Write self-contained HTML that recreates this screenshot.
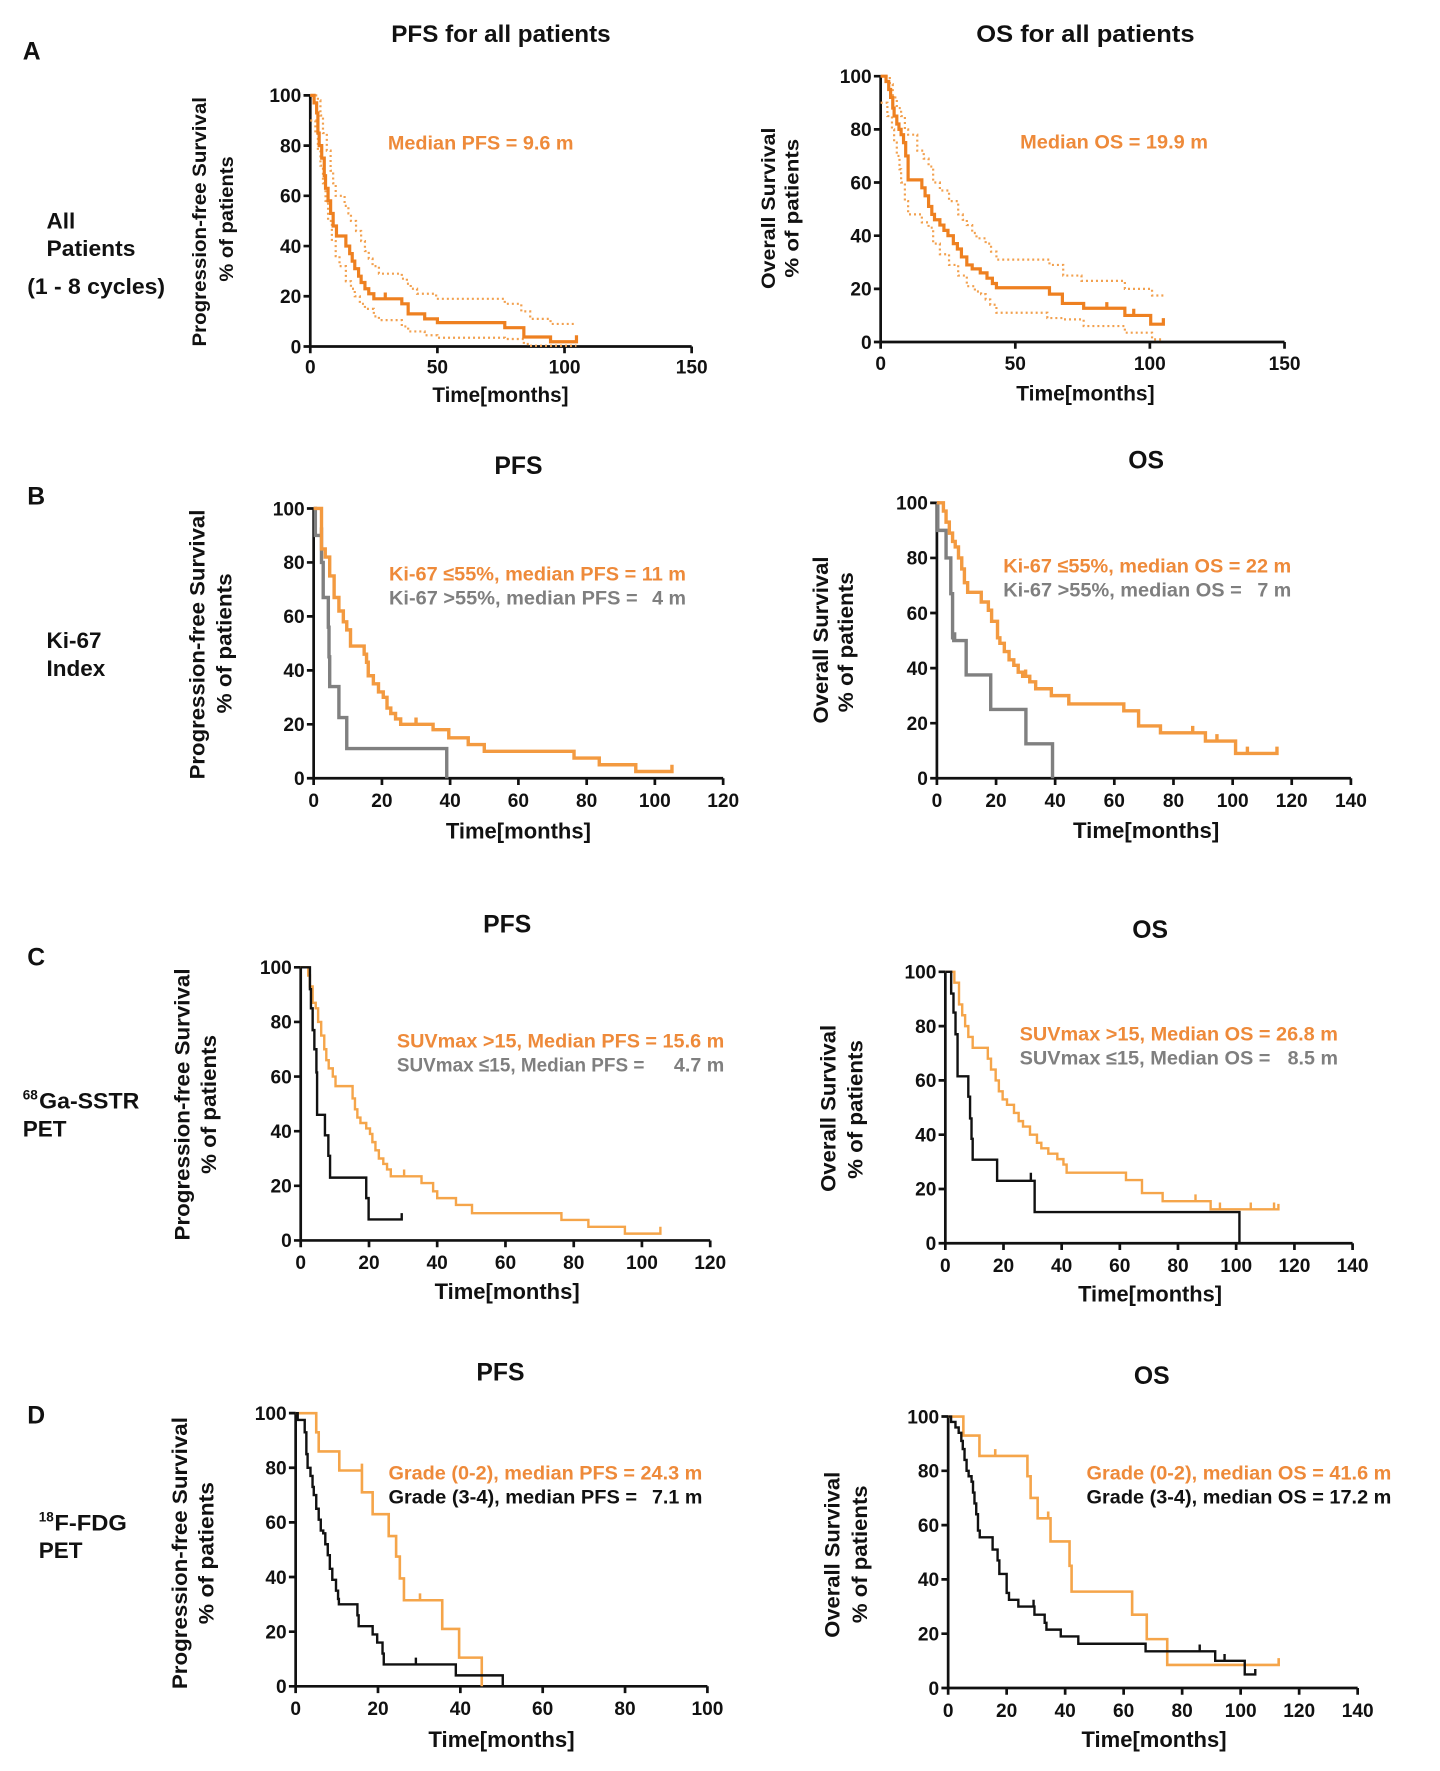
<!DOCTYPE html>
<html>
<head>
<meta charset="utf-8">
<style>
html,body{margin:0;padding:0;background:#fff;}
svg{display:block;}
text{font-family:"Liberation Sans",Arial,sans-serif;font-weight:bold;fill:#111;}
.tk{font-size:17px;}
.ttl{font-size:22px;}
.ax{fill:none;stroke:#111;stroke-width:2.4;}
.c{fill:none;vector-effect:non-scaling-stroke;stroke-linejoin:miter;stroke-linecap:butt;}
.or{fill:#EE8A3A;}
.gr{fill:#7F7F7F;}
</style>
</head>
<body>
<svg width="1440" height="1771" viewBox="0 0 1280 1574.22" xmlns="http://www.w3.org/2000/svg">
<rect x="0" y="0" width="1280" height="1574.22" fill="#fff"/>
<g transform="translate(1.8,0) scale(1,1.0033)">

<!-- ================= PANEL A ================= -->
<text x="18.4" y="52.5" font-size="22">A</text>
<text x="346" y="37" font-size="21.5" textLength="195" lengthAdjust="spacingAndGlyphs">PFS for all patients</text>
<text x="866" y="37" font-size="21.5" textLength="194" lengthAdjust="spacingAndGlyphs">OS for all patients</text>
<text x="39.6" y="202.5" font-size="20">All</text>
<text x="39.6" y="227" font-size="20" textLength="79" lengthAdjust="spacingAndGlyphs">Patients</text>
<text x="22.4" y="260.5" font-size="20" textLength="122.5" lengthAdjust="spacingAndGlyphs">(1 - 8 cycles)</text>

<!-- A PFS axes -->
<path class="ax" d="M274,84.5 V307 H613 M268,84.5 H274 M268,129 H274 M268,173.5 H274 M268,218 H274 M268,262.5 H274 M268,307 H274 M274,307 V313 M387,307 V313 M500,307 V313 M613,307 V313"/>
<g class="tk" text-anchor="end">
<text x="266" y="90.5">100</text><text x="266" y="135">80</text><text x="266" y="179.5">60</text><text x="266" y="224">40</text><text x="266" y="268.5">20</text><text x="266" y="313">0</text>
</g>
<g class="tk" text-anchor="middle">
<text x="274" y="331">0</text><text x="387" y="331">50</text><text x="500" y="331">100</text><text x="613" y="331">150</text>
</g>
<text x="443" y="356" font-size="18.5" text-anchor="middle" textLength="121" lengthAdjust="spacingAndGlyphs">Time[months]</text>
<text transform="translate(181.5,196.5) rotate(-90)" font-size="17.5" text-anchor="middle" textLength="221" lengthAdjust="spacingAndGlyphs">Progression-free Survival</text>
<text transform="translate(205.5,194) rotate(-90)" font-size="17.5" text-anchor="middle" textLength="111" lengthAdjust="spacingAndGlyphs">%  of patients</text>
<text class="or" x="343" y="132.5" font-size="17.5" textLength="165" lengthAdjust="spacingAndGlyphs">Median PFS = 9.6 m</text>
<g transform="translate(274,307) scale(2.26,-2.225)">
<path class="c" stroke="#F2A04E" stroke-width="2.2" stroke-dasharray="2 3" d="M0,100 H3 V98 H4 V92 H5 V85 H6.5 V78 H8 V70 H9 V65 H10 V60 H13.5 V56 H15 V53 H16 V50 H18 V46 H20 V42 H21.5 V38 H23 V35 H24.5 V32 H27 V29 H36 V27 H38 V25 H39.5 V23 H42 V21 H49.5 V19 H76.5 V17 H83 V14 H86.5 V11 H94.5 V9 H104.7"/>
<path class="c" stroke="#F2A04E" stroke-width="2.2" stroke-dasharray="2 3" d="M0,90 H2 V85 H3 V78 H4 V72 H5 V65 H6 V58 H7 V50 H8.5 V42 H10 V36 H11.5 V32 H14 V26 H16 V23 H17.5 V20 H19.5 V17 H21.5 V15 H25 V12 H27 V10.5 H36 V8 H38.5 V6 H45 V4.5 H50 V3.5 H76.5 V3 H84 V1 H86 V0.3 H104.7"/>
<path class="c" stroke="#EE8020" stroke-width="3.2" d="M0,100 H1.5 V97 H2.5 V93 H3 V85 H3.5 V80 H4.5 V75 H5.5 V68 H6 V63 H7 V58 H8 V53 H9 V48 H10.3 V44 H14 V40 H15.5 V37 H16.5 V34 H17.5 V31 H19 V28 H20 V25.5 H21.5 V23 H23 V21 H25 V19 H36 V17 H38.5 V13 H45 V11 H50 V9.5 H76.5 V7.5 H84 V3.8 H94.5 V1.9 H104.7 V4.5 M29.5,19 V21.5"/>
</g>

<!-- A OS axes -->
<path class="ax" d="M781,67.5 V303 H1140 M775,67.5 H781 M775,114.6 H781 M775,161.7 H781 M775,208.8 H781 M775,255.9 H781 M775,303 H781 M781,303 V309 M900.7,303 V309 M1020.3,303 V309 M1140,303 V309"/>
<g class="tk" text-anchor="end">
<text x="773" y="73.5">100</text><text x="773" y="120.6">80</text><text x="773" y="167.7">60</text><text x="773" y="214.8">40</text><text x="773" y="261.9">20</text><text x="773" y="309">0</text>
</g>
<g class="tk" text-anchor="middle">
<text x="781" y="328">0</text><text x="900.7" y="328">50</text><text x="1020.3" y="328">100</text><text x="1140" y="328">150</text>
</g>
<text x="963" y="355" font-size="18.5" text-anchor="middle" textLength="123" lengthAdjust="spacingAndGlyphs">Time[months]</text>
<text transform="translate(687,184.5) rotate(-90)" font-size="17.5" text-anchor="middle" textLength="143" lengthAdjust="spacingAndGlyphs">Overall Survival</text>
<text transform="translate(708,184.5) rotate(-90)" font-size="17.5" text-anchor="middle" textLength="123" lengthAdjust="spacingAndGlyphs">%  of patients</text>
<text class="or" x="905" y="131.5" font-size="17.5" textLength="167" lengthAdjust="spacingAndGlyphs">Median OS = 19.9 m</text>
<g transform="translate(781,303) scale(2.3933,-2.355)">
<path class="c" stroke="#F2A04E" stroke-width="2.2" stroke-dasharray="2 3" d="M0,100 H3.4 V97 H4.5 V92 H6 V88 H7.6 V85 H9 V80 H10.2 V78 H13.6 V72 H16 V69 H17.8 V66 H19.5 V60 H22 V57 H25.4 V53 H28.8 V48 H30.5 V46 H32 V44 H34 V41 H35.6 V39 H39 V37 H41 V34 H43 V31 H62.7 V29 H67.8 V25 H74.6 V23 H90.7 V20 H100.8 V17.5 H105"/>
<path class="c" stroke="#F2A04E" stroke-width="2.2" stroke-dasharray="2 3" d="M0,90 H2.5 V85 H4.2 V80 H5 V75 H6 V70 H7 V65 H7.6 V60 H9 V53 H10.2 V48 H15.3 V45 H17.8 V43 H19.5 V37 H22 V33 H25.4 V29 H28.8 V25 H32 V21 H35 V19 H37.3 V18 H39 V16 H40.7 V14 H43 V11 H61.9 V9 H67.5 V8.5 H75.4 V6 H90.7 V3.5 H100.8 V1 H105"/>
<path class="c" stroke="#EE8020" stroke-width="3.2" d="M0,100 H2 V98 H3 V95 H3.7 V92 H4.5 V88 H5 V85 H6 V82 H6.8 V80 H7.6 V78 H8.5 V75 H9.3 V70 H10.2 V61 H15.3 V58 H16.5 V55 H17.8 V51 H19 V48 H20 V46 H22 V44 H23.5 V42 H25 V40 H27 V37 H28.5 V35 H30 V32 H32 V29 H34 V27.5 H37 V26 H39.5 V24 H41.5 V22 H43 V20.4 H62.7 V18 H67.5 V14.5 H75.4 V12.7 H90.7 V10 H100.3 V6.7 H105 V9 M84,12.7 V15 M94,10 V12.5"/>
</g>

<!-- ================= PANEL B ================= -->
<text x="22.4" y="447" font-size="22">B</text>
<text x="459" y="420" class="ttl" text-anchor="middle">PFS</text>
<text x="1017" y="415" class="ttl" text-anchor="middle">OS</text>
<text x="39.6" y="574" font-size="20">Ki-67</text>
<text x="39.6" y="599" font-size="20">Index</text>

<!-- B PFS -->
<path class="ax" d="M277,450.5 V689.5 H641 M271,450.5 H277 M271,498.3 H277 M271,546.1 H277 M271,593.9 H277 M271,641.7 H277 M271,689.5 H277 M277,689.5 V695.5 M337.7,689.5 V695.5 M398.3,689.5 V695.5 M459,689.5 V695.5 M519.7,689.5 V695.5 M580.3,689.5 V695.5 M641,689.5 V695.5"/>
<g class="tk" text-anchor="end">
<text x="269" y="456.5">100</text><text x="269" y="504.3">80</text><text x="269" y="552.1">60</text><text x="269" y="599.9">40</text><text x="269" y="647.7">20</text><text x="269" y="695.5">0</text>
</g>
<g class="tk" text-anchor="middle">
<text x="277" y="715">0</text><text x="337.7" y="715">20</text><text x="398.3" y="715">40</text><text x="459" y="715">60</text><text x="519.7" y="715">80</text><text x="580.3" y="715">100</text><text x="641" y="715">120</text>
</g>
<text x="459" y="743" font-size="19.5" text-anchor="middle" textLength="129" lengthAdjust="spacingAndGlyphs">Time[months]</text>
<text transform="translate(180,571) rotate(-90)" font-size="18.5" text-anchor="middle" textLength="239" lengthAdjust="spacingAndGlyphs">Progression-free Survival</text>
<text transform="translate(204,570) rotate(-90)" font-size="18.5" text-anchor="middle" textLength="124" lengthAdjust="spacingAndGlyphs">%  of patients</text>
<text class="or" x="344" y="514.5" font-size="17.5" textLength="264" lengthAdjust="spacingAndGlyphs">Ki-67 ≤55%,  median PFS = 11 m</text>
<text class="gr" x="344" y="535.5" font-size="17.5" textLength="221" lengthAdjust="spacingAndGlyphs">Ki-67 &gt;55%,  median PFS =</text>
<text class="gr" x="608" y="535.5" font-size="17.5" text-anchor="end">4 m</text>
<g transform="translate(277,689.5) scale(3.0333,-2.39)">
<path class="c" stroke="#808080" stroke-width="3.4" d="M0,100 H0.5 V90 H2.3 V80 H2.8 V67 H4.3 V56 H4.5 V45 H4.7 V34 H7.4 V22.5 H9.7 V11 H39 V0 M2.3,90 V93"/>
<path class="c" stroke="#F39A40" stroke-width="3.4" d="M0,100 H2.3 V85 H3.4 V82 H4.7 V75 H6 V67 H7.4 V62 H8.7 V58 H9.7 V55 H10.8 V49 H14.8 V46 H15.5 V43 H16 V38 H17.5 V35 H19 V32 H20.4 V30 H21.5 V26 H22.6 V24 H24 V22 H25.5 V20 H35 V18 H39.6 V15 H45.3 V12.5 H50 V10 H76.3 V7.5 H83.7 V5 H94.4 V2.5 H105 V5 M30,20 V22.5"/>
</g>

<!-- B OS -->
<path class="ax" d="M831,445.5 V689.5 H1199 M825,445.5 H831 M825,494.3 H831 M825,543.1 H831 M825,591.9 H831 M825,640.7 H831 M825,689.5 H831 M831,689.5 V695.5 M883.6,689.5 V695.5 M936.1,689.5 V695.5 M988.7,689.5 V695.5 M1041.3,689.5 V695.5 M1093.9,689.5 V695.5 M1146.4,689.5 V695.5 M1199,689.5 V695.5"/>
<g class="tk" text-anchor="end">
<text x="823" y="451.5">100</text><text x="823" y="500.3">80</text><text x="823" y="549.1">60</text><text x="823" y="597.9">40</text><text x="823" y="646.7">20</text><text x="823" y="695.5">0</text>
</g>
<g class="tk" text-anchor="middle">
<text x="831" y="715">0</text><text x="883.6" y="715">20</text><text x="936.1" y="715">40</text><text x="988.7" y="715">60</text><text x="1041.3" y="715">80</text><text x="1093.9" y="715">100</text><text x="1146.4" y="715">120</text><text x="1199" y="715">140</text>
</g>
<text x="1017" y="742.5" font-size="19.5" text-anchor="middle" textLength="130" lengthAdjust="spacingAndGlyphs">Time[months]</text>
<text transform="translate(734,567) rotate(-90)" font-size="18.5" text-anchor="middle" textLength="148" lengthAdjust="spacingAndGlyphs">Overall Survival</text>
<text transform="translate(756.5,569) rotate(-90)" font-size="18.5" text-anchor="middle" textLength="124" lengthAdjust="spacingAndGlyphs">%  of patients</text>
<text class="or" x="890" y="507" font-size="17.5" textLength="256" lengthAdjust="spacingAndGlyphs">Ki-67 ≤55%,  median OS = 22 m</text>
<text class="gr" x="890" y="528.5" font-size="17.5" textLength="212" lengthAdjust="spacingAndGlyphs">Ki-67 &gt;55%,  median OS =</text>
<text class="gr" x="1146" y="528.5" font-size="17.5" text-anchor="end">7 m</text>
<g transform="translate(831,689.5) scale(2.6286,-2.44)">
<path class="c" stroke="#808080" stroke-width="3.4" d="M0,100 H0.3 V90 H3.1 V80 H4.7 V67 H5.3 V51 H5.7 V50 H9.9 V37.5 H18.2 V25 H30.1 V12.5 H39.1 V0 M6,50 V53"/>
<path class="c" stroke="#F39A40" stroke-width="3.4" d="M0,100 H1 V100 H2.2 V97 H3.1 V93 H4.2 V89 H5.3 V86 H6.2 V84 H7.3 V80 H8.4 V76 H9.3 V71 H10.4 V67.5 H15 V64 H17.4 V61 H18.5 V57 H20.5 V51 H21.3 V49 H22.8 V46 H24.4 V43 H26 V41 H27.5 V38.5 H29 V37 H31.4 V35 H33.4 V32.5 H38.7 V30 H44.6 V27 H63.2 V24.5 H68.2 V19 H75.6 V16.5 H90.8 V13.5 H101 V9 H115 V11.5 M86.5,16.5 V19 M94.7,13.5 V16 M105,9 V11.5 M30,37 V39.5"/>
</g>

<!-- ================= PANEL C ================= -->
<text x="22.4" y="855.5" font-size="22">C</text>
<text x="449" y="826" class="ttl" text-anchor="middle">PFS</text>
<text x="1020.5" y="831" class="ttl" text-anchor="middle">OS</text>
<text x="18.4" y="974" font-size="12">68</text>
<text x="33" y="982" font-size="20" textLength="89" lengthAdjust="spacingAndGlyphs">Ga-SSTR</text>
<text x="18.4" y="1007" font-size="20">PET</text>

<!-- C PFS -->
<path class="ax" d="M265.5,857 V1099 H629.5 M259.5,857 H265.5 M259.5,905.4 H265.5 M259.5,953.8 H265.5 M259.5,1002.2 H265.5 M259.5,1050.6 H265.5 M259.5,1099 H265.5 M265.5,1099 V1105 M326.2,1099 V1105 M386.8,1099 V1105 M447.5,1099 V1105 M508.2,1099 V1105 M568.8,1099 V1105 M629.5,1099 V1105"/>
<g class="tk" text-anchor="end">
<text x="257.5" y="863">100</text><text x="257.5" y="911.4">80</text><text x="257.5" y="959.8">60</text><text x="257.5" y="1008.2">40</text><text x="257.5" y="1056.6">20</text><text x="257.5" y="1105">0</text>
</g>
<g class="tk" text-anchor="middle">
<text x="265.5" y="1124.5">0</text><text x="326.2" y="1124.5">20</text><text x="386.8" y="1124.5">40</text><text x="447.5" y="1124.5">60</text><text x="508.2" y="1124.5">80</text><text x="568.8" y="1124.5">100</text><text x="629.5" y="1124.5">120</text>
</g>
<text x="449" y="1151" font-size="19.5" text-anchor="middle" textLength="129" lengthAdjust="spacingAndGlyphs">Time[months]</text>
<text transform="translate(166.5,978.5) rotate(-90)" font-size="18.5" text-anchor="middle" textLength="241" lengthAdjust="spacingAndGlyphs">Progression-free Survival</text>
<text transform="translate(190,978.5) rotate(-90)" font-size="18.5" text-anchor="middle" textLength="123" lengthAdjust="spacingAndGlyphs">%  of patients</text>
<text class="or" x="351" y="928" font-size="17.5" textLength="291" lengthAdjust="spacingAndGlyphs">SUVmax &gt;15, Median PFS = 15.6 m</text>
<text class="gr" x="351" y="949.5" font-size="17.5" textLength="220" lengthAdjust="spacingAndGlyphs">SUVmax ≤15, Median PFS =</text>
<text class="gr" x="642" y="949.5" font-size="17.5" text-anchor="end">4.7 m</text>
<g transform="translate(265.5,1099) scale(3.0333,-2.42)">
<path class="c" stroke="#F5A54A" stroke-width="2.4" d="M0,100 H2.2 V97 H2.7 V93 H3.5 V87 H4.4 V85 H5.1 V80 H6 V75 H6.9 V70 H7.5 V66 H8.2 V63 H9.4 V60 H10.2 V56.5 H15.2 V52 H15.9 V48 H16.6 V45 H17.5 V43 H19.2 V41 H20.3 V39 H21 V36 H21.9 V33 H22.9 V30 H24.2 V28 H25.3 V26 H26.4 V23.5 H35.4 V21 H38.8 V18 H40 V15.5 H45.5 V13 H50.2 V10 H76.4 V7.5 H84.3 V5 H95 V2.5 H105.4 V5 M30.3,23.5 V26"/>
<path class="c" stroke="#111" stroke-width="2.4" d="M0,100 H2.7 V92 H3 V85 H3.5 V77 H4 V70 H4.6 V61.5 H4.8 V46 H7.1 V38.5 H8.1 V31 H8.6 V23 H19.2 V15.5 H19.9 V7.7 H29.6 V10"/>
</g>

<!-- C OS -->
<path class="ax" d="M838.5,861 V1101.5 H1200.5 M832.5,861 H838.5 M832.5,909.1 H838.5 M832.5,957.2 H838.5 M832.5,1005.3 H838.5 M832.5,1053.4 H838.5 M832.5,1101.5 H838.5 M838.5,1101.5 V1107.5 M890.2,1101.5 V1107.5 M941.9,1101.5 V1107.5 M993.6,1101.5 V1107.5 M1045.3,1101.5 V1107.5 M1097,1101.5 V1107.5 M1148.8,1101.5 V1107.5 M1200.5,1101.5 V1107.5"/>
<g class="tk" text-anchor="end">
<text x="830.5" y="867">100</text><text x="830.5" y="915.1">80</text><text x="830.5" y="963.2">60</text><text x="830.5" y="1011.3">40</text><text x="830.5" y="1059.4">20</text><text x="830.5" y="1107.5">0</text>
</g>
<g class="tk" text-anchor="middle">
<text x="838.5" y="1127">0</text><text x="890.2" y="1127">20</text><text x="941.9" y="1127">40</text><text x="993.6" y="1127">60</text><text x="1045.3" y="1127">80</text><text x="1097" y="1127">100</text><text x="1148.8" y="1127">120</text><text x="1200.5" y="1127">140</text>
</g>
<text x="1020.5" y="1153" font-size="19.5" text-anchor="middle" textLength="128" lengthAdjust="spacingAndGlyphs">Time[months]</text>
<text transform="translate(741,982) rotate(-90)" font-size="18.5" text-anchor="middle" textLength="148" lengthAdjust="spacingAndGlyphs">Overall Survival</text>
<text transform="translate(765,983) rotate(-90)" font-size="18.5" text-anchor="middle" textLength="123" lengthAdjust="spacingAndGlyphs">%  of patients</text>
<text class="or" x="904.5" y="922" font-size="17.5" textLength="283" lengthAdjust="spacingAndGlyphs">SUVmax &gt;15, Median OS = 26.8 m</text>
<text class="gr" x="904.5" y="943" font-size="17.5" textLength="223" lengthAdjust="spacingAndGlyphs">SUVmax ≤15, Median OS =</text>
<text class="gr" x="1187.5" y="943" font-size="17.5" text-anchor="end">8.5 m</text>
<g transform="translate(838.5,1101.5) scale(2.5857,-2.405)">
<path class="c" stroke="#F5A54A" stroke-width="2.4" d="M0,100 H3.1 V96 H4.7 V88 H5.8 V84 H6.8 V80 H7.9 V76 H9.4 V72 H14.6 V68 H15.7 V64 H17.3 V60 H18.4 V56 H19.7 V53 H21.2 V51 H23.6 V48 H25.2 V45 H26.7 V43 H29.1 V40 H31.5 V37 H33 V35 H35.4 V33 H38.5 V31 H40.6 V29 H41.7 V26 H62.1 V23.3 H67.6 V18.5 H74.7 V15.5 H91.2 V12.5 H114.5 V14.5 M86,15.5 V18 M94.4,12.5 V15 M105,12.5 V15 M113,12.5 V15"/>
<path class="c" stroke="#111" stroke-width="2.4" d="M0,100 H2 V92 H2.8 V85 H3.5 V77 H4.2 V61.5 H7.9 V54 H8.5 V46 H9 V38.5 H9.4 V30.8 H17.8 V23 H30.7 V11.5 H101.1 V0 M29.4,23 V26"/>
</g>

<!-- ================= PANEL D ================= -->
<text x="22.4" y="1261" font-size="22">D</text>
<text x="443" y="1223" class="ttl" text-anchor="middle">PFS</text>
<text x="1022" y="1226" class="ttl" text-anchor="middle">OS</text>
<text x="32.7" y="1348" font-size="12">18</text>
<text x="46.5" y="1356" font-size="20" textLength="64.5" lengthAdjust="spacingAndGlyphs">F-FDG</text>
<text x="32.7" y="1380.5" font-size="20">PET</text>

<!-- D PFS -->
<path class="ax" d="M261,1252 V1494 H627 M255,1252 H261 M255,1300.4 H261 M255,1348.8 H261 M255,1397.2 H261 M255,1445.6 H261 M255,1494 H261 M261,1494 V1500 M334.2,1494 V1500 M407.4,1494 V1500 M480.6,1494 V1500 M553.8,1494 V1500 M627,1494 V1500"/>
<g class="tk" text-anchor="end">
<text x="253" y="1258">100</text><text x="253" y="1306.4">80</text><text x="253" y="1354.8">60</text><text x="253" y="1403.2">40</text><text x="253" y="1451.6">20</text><text x="253" y="1500">0</text>
</g>
<g class="tk" text-anchor="middle">
<text x="261" y="1519.5">0</text><text x="334.2" y="1519.5">20</text><text x="407.4" y="1519.5">40</text><text x="480.6" y="1519.5">60</text><text x="553.8" y="1519.5">80</text><text x="627" y="1519.5">100</text>
</g>
<text x="444" y="1548" font-size="19.5" text-anchor="middle" textLength="130" lengthAdjust="spacingAndGlyphs">Time[months]</text>
<text transform="translate(164.5,1376) rotate(-90)" font-size="18.5" text-anchor="middle" textLength="241" lengthAdjust="spacingAndGlyphs">Progression-free Survival</text>
<text transform="translate(188,1376) rotate(-90)" font-size="18.5" text-anchor="middle" textLength="126" lengthAdjust="spacingAndGlyphs">%  of patients</text>
<text class="or" x="343.5" y="1311" font-size="17.5" textLength="279" lengthAdjust="spacingAndGlyphs">Grade (0-2), median PFS = 24.3 m</text>
<text fill="#111" x="343.5" y="1332" font-size="17.5" textLength="221" lengthAdjust="spacingAndGlyphs">Grade (3-4), median PFS =</text>
<text fill="#111" x="622.5" y="1332" font-size="17.5" text-anchor="end">7.1 m</text>
<g transform="translate(261,1494) scale(3.66,-2.42)">
<path class="c" stroke="#F5A54A" stroke-width="2.6" d="M0,100 H5 V93 H5.6 V86 H10.6 V79 H16.1 V71 H18.7 V63 H22.6 V55 H24.4 V47.5 H25.3 V39.5 H26.3 V31.5 H35.6 V21 H39.7 V10.5 H45.2 V0 M16.1,79 V81.5 M30.2,31.5 V34"/>
<path class="c" stroke="#111" stroke-width="2.4" d="M0,100 H0.5 V97.5 H2.2 V93 H2.6 V85 H2.9 V80 H3.6 V77 H4.1 V73 H4.4 V70 H5 V65 H5.6 V61 H6.1 V57 H6.7 V56 H7.2 V52 H7.8 V48 H8.3 V43 H8.9 V39 H9.8 V35 H10.3 V32 H10.5 V30 H15 V26 H15.3 V22 H18.7 V19 H19.8 V16 H21.1 V12 H21.4 V8 H38.9 V4 H50.3 V0 M29.2,8 V10.5"/>
</g>

<!-- D OS -->
<path class="ax" d="M841,1255 V1495.5 H1205 M835,1255 H841 M835,1303.1 H841 M835,1351.2 H841 M835,1399.3 H841 M835,1447.4 H841 M835,1495.5 H841 M841,1495.5 V1501.5 M893,1495.5 V1501.5 M945,1495.5 V1501.5 M997,1495.5 V1501.5 M1049,1495.5 V1501.5 M1101,1495.5 V1501.5 M1153,1495.5 V1501.5 M1205,1495.5 V1501.5"/>
<g class="tk" text-anchor="end">
<text x="833" y="1261">100</text><text x="833" y="1309.1">80</text><text x="833" y="1357.2">60</text><text x="833" y="1405.3">40</text><text x="833" y="1453.4">20</text><text x="833" y="1501.5">0</text>
</g>
<g class="tk" text-anchor="middle">
<text x="841" y="1521">0</text><text x="893" y="1521">20</text><text x="945" y="1521">40</text><text x="997" y="1521">60</text><text x="1049" y="1521">80</text><text x="1101" y="1521">100</text><text x="1153" y="1521">120</text><text x="1205" y="1521">140</text>
</g>
<text x="1024" y="1548" font-size="19.5" text-anchor="middle" textLength="129" lengthAdjust="spacingAndGlyphs">Time[months]</text>
<text transform="translate(744.5,1377.5) rotate(-90)" font-size="18.5" text-anchor="middle" textLength="147" lengthAdjust="spacingAndGlyphs">Overall Survival</text>
<text transform="translate(769,1377) rotate(-90)" font-size="18.5" text-anchor="middle" textLength="122" lengthAdjust="spacingAndGlyphs">%  of patients</text>
<text class="or" x="964" y="1311" font-size="17.5" textLength="271" lengthAdjust="spacingAndGlyphs">Grade (0-2), median OS = 41.6 m</text>
<text fill="#111" x="964" y="1332" font-size="17.5" textLength="271" lengthAdjust="spacingAndGlyphs">Grade (3-4), median OS = 17.2 m</text>
<g transform="translate(841,1495.5) scale(2.6,-2.405)">
<path class="c" stroke="#F5A54A" stroke-width="2.6" d="M0,100 H5.2 V93 H10.7 V85.5 H27.1 V78 H28.2 V70 H30.6 V62.5 H35 V54 H41.5 V45 H42.2 V35.5 H62.9 V27 H67.9 V18 H74.9 V8.5 H113 V11 M16.1,85.5 V88 M34.2,62.5 V65"/>
<path class="c" stroke="#111" stroke-width="2.4" d="M0,100 H1 V98 H2.5 V96 H3.6 V94 H4.5 V91 H5 V88 H5.6 V84 H6.3 V80 H7 V78 H8 V76 H8.5 V72 H9 V68 H9.6 V64 H10.2 V58 H10.8 V55.5 H15.2 V51 H16.9 V47 H17.5 V42 H20 V35 H20.8 V32.5 H24 V30 H29.5 V27 H33 V24 H33.6 V21.5 H38.5 V19 H44.5 V16.3 H67.5 V13.5 H91.3 V10 H101.4 V5 H105 V7 M86,13.5 V16 M94.5,10 V12.5 M29.2,30 V32.5"/>
</g>

</g>
</svg>
</body>
</html>
